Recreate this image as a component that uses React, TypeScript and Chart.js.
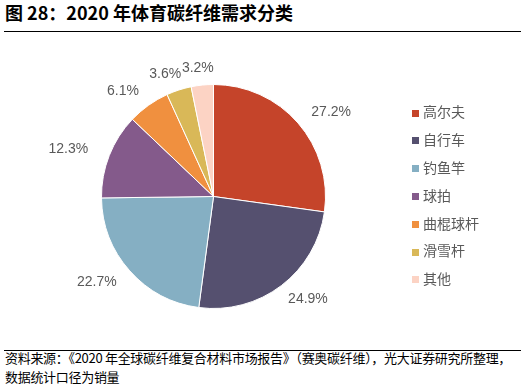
import React, { useEffect, useRef } from "react";
import { Chart, registerables } from "chart.js";

Chart.register(...registerables);

const titleText = "图 28：2020 年体育碳纤维需求分类";
const categories = ["高尔夫", "自行车", "钓鱼竿", "球拍", "曲棍球杆", "滑雪杆", "其他"];
const shares = [27.2, 24.9, 22.7, 12.3, 6.1, 3.6, 3.2];
const colors = ["#C5442A", "#55506F", "#85AFC3", "#845A8B", "#F0903F", "#D9B858", "#FCD3C4"];
const sourceLines = [
  "资料来源：《2020 年全球碳纤维复合材料市场报告》（赛奥碳纤维），光大证券研究所整理，",
  "数据统计口径为销量",
];

const labelFont = '14px "Liberation Sans", Arial, "Noto Sans CJK SC", sans-serif';
const textGray = "#595959";

const piePlugin = {
  id: "pieDecor",
  afterDatasetsDraw(chart: any) {
    const ctx = chart.ctx;
    const meta = chart.getDatasetMeta(0);
    ctx.save();
    ctx.font = labelFont;
    ctx.fillStyle = textGray;
    ctx.textAlign = "center";
    ctx.textBaseline = "middle";
    meta.data.forEach((arc: any, i: number) => {
      const p = arc.getProps(["x", "y", "startAngle", "endAngle", "outerRadius"], true);
      const mid = (p.startAngle + p.endAngle) / 2;
      const ux = Math.cos(mid);
      const uy = Math.sin(mid);
      const lx = p.x + ux * (p.outerRadius + 44);
      const ly = p.y + uy * (p.outerRadius + 17);
      ctx.fillText(shares[i].toFixed(1) + "%", lx, ly);
    });

    // legend
    const ca = chart.chartArea;
    const cy = (ca.top + ca.bottom) / 2;
    const lx = ca.right + 86;
    const step = 27.8;
    const n = categories.length;
    ctx.textAlign = "left";
    categories.forEach((c, i) => {
      const y = cy + (i - (n - 1) / 2) * step;
      ctx.fillStyle = colors[i];
      ctx.fillRect(lx, Math.round(y - 3.5), 7, 7);
      ctx.fillStyle = textGray;
      ctx.fillText(c, lx + 11, y + 0.5);
    });
    ctx.restore();
  },
};

export default function App() {
  const canvasRef = useRef<HTMLCanvasElement | null>(null);

  useEffect(() => {
    const canvas = canvasRef.current;
    if (!canvas) return;
    const chart = new Chart(canvas, {
      type: "pie",
      data: {
        labels: categories,
        datasets: [
          {
            data: shares,
            backgroundColor: colors,
            borderColor: "#FFFFFF",
            borderWidth: 1,
          },
        ],
      },
      options: {
        responsive: false,
        animation: false,
        devicePixelRatio: 1,
        layout: { padding: { left: 101, right: 198, top: 52, bottom: 39 } },
        plugins: {
          legend: { display: false },
          tooltip: { enabled: false },
          title: { display: false },
        },
      },
      plugins: [piePlugin],
    });
    return () => chart.destroy();
  }, []);

  return (
    <div style={{ position: "absolute", left: 0, top: 0, width: 524, height: 388, background: "#fff", overflow: "hidden" }}>
      <div
        style={{
          position: "absolute",
          left: 5,
          top: 3,
          fontFamily: '"Noto Sans CJK SC", sans-serif',
          fontWeight: 700,
          fontSize: 18,
          lineHeight: "18px",
          whiteSpace: "nowrap",
          color: "#000",
        }}
      >
        {titleText}
      </div>
      <div style={{ position: "absolute", left: 4, top: 31, width: 517, height: 1, background: "#000" }} />
      <canvas
        ref={canvasRef}
        width={524}
        height={316}
        style={{ position: "absolute", left: 0, top: 32, width: 524, height: 316 }}
      />
      <div style={{ position: "absolute", left: 4, top: 350, width: 517, height: 1, background: "#000" }} />
      <div
        style={{
          position: "absolute",
          left: 5,
          top: 348,
          fontFamily: '"Noto Sans CJK SC", sans-serif',
          fontSize: "13px",
          letterSpacing: "-0.3px",
          lineHeight: "19px",
          whiteSpace: "nowrap",
          color: "#000",
        }}
      >
        {sourceLines.map((l, i) => (
          <div key={i}>{l}</div>
        ))}
      </div>
    </div>
  );
}
